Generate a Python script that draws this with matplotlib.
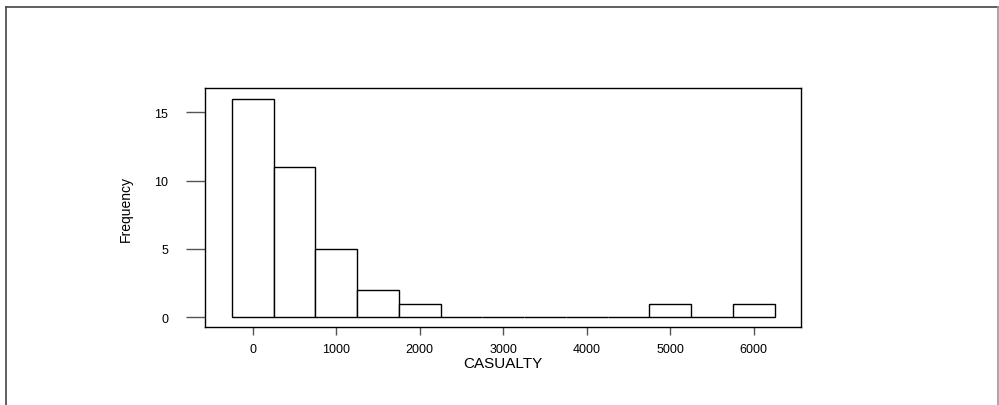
import matplotlib
matplotlib.use("Agg")
import matplotlib.pyplot as plt
from matplotlib.lines import Line2D

# histogram of CASUALTY, bins of width 500 centred on multiples of 500
bin_centers = [0, 500, 1000, 1500, 2000, 2500, 3000, 3500, 4000, 4500, 5000, 5500, 6000]
counts = [16, 11, 5, 2, 1, 0, 0, 0, 0, 0, 1, 0, 1]
bin_width = 500
x_ticks = [0, 1000, 2000, 3000, 4000, 5000, 6000]
y_ticks = [0, 5, 10, 15]

W, H = 999, 406
PX = 72 / 100  # points per pixel at dpi 100
plt.rcParams['font.family'] = ['Liberation Sans', 'DejaVu Sans']

fig = plt.figure(figsize=(W / 100, H / 100), dpi=100)
ax_l, ax_r, ax_t, ax_b = 205, 800.7, 89.3, 328.3
ax = fig.add_axes([ax_l / W, 1 - ax_b / H, (ax_r - ax_l) / W, (ax_b - ax_t) / H])

ax.bar(bin_centers, counts, width=bin_width, color='white', edgecolor='black',
       linewidth=1.0)

ax.set_xlim(-571, 6563)
ax.set_ylim(-0.73, 16.75)
ax.set_xticks(x_ticks)
ax.set_yticks(y_ticks)
ax.tick_params(axis='x', length=8 * PX, width=1, color='#555555', labelsize=9,
               pad=8 * PX)
ax.tick_params(axis='y', length=19 * PX, width=1, color='#555555', labelsize=9,
               pad=18 * PX)
for s in ax.spines.values():
    s.set_linewidth(1.0)
    s.set_color('black')

ax.set_xlabel("CASUALTY", fontsize=11, va='center')
ax.xaxis.set_label_coords(0.5, -(364 - ax_b) / (ax_b - ax_t))
ax.set_ylabel("Frequency", fontsize=10, va='center')
ax.yaxis.set_label_coords(-(ax_l - 126) / (ax_r - ax_l), 0.5)

# outer frame around the plot region (bottom edge runs off the image)
frame_col = '#444444'
fig.add_artist(Line2D([6 / W, 998 / W], [1 - 8 / H, 1 - 8 / H], color=frame_col, lw=1.2,
                      transform=fig.transFigure))
fig.add_artist(Line2D([6 / W, 6 / W], [1 - 8 / H, 0], color=frame_col, lw=1.2,
                      transform=fig.transFigure))
fig.add_artist(Line2D([998 / W, 998 / W], [1 - 8 / H, 0], color='#999999', lw=1.2,
                      transform=fig.transFigure))

fig.savefig("out.png", dpi=100)
